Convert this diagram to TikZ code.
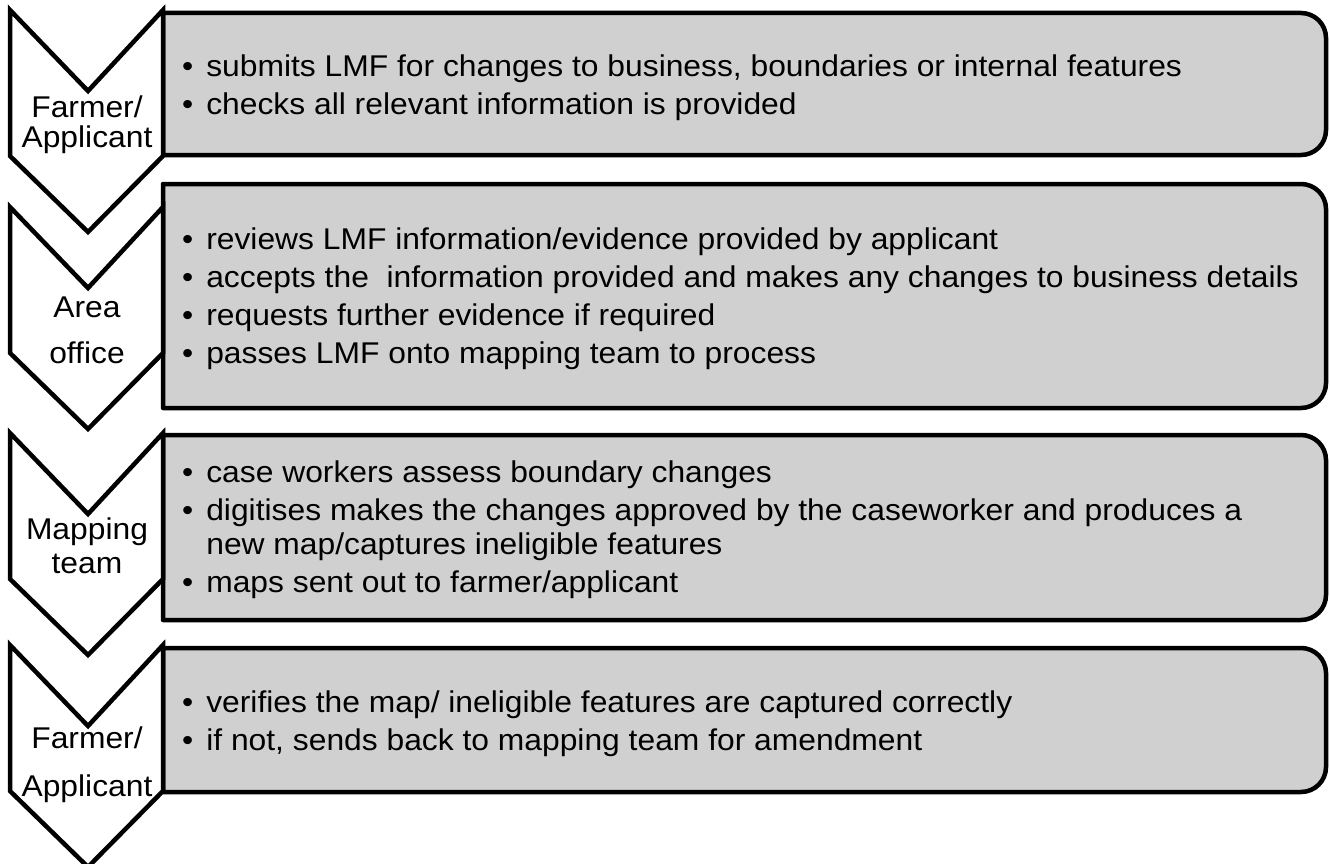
\documentclass[tikz,border=0pt]{standalone}
\usepackage{fontspec}
\setmainfont{Liberation Sans}[FakeStretch=1.06]
\definecolor{panel}{HTML}{D0D0D0}

\begin{document}
\begin{tikzpicture}[x=1pt, y=-1pt,
  panel/.style={draw=black, line width=4.5pt, fill=panel, line join=round},
  chev/.style={draw=black, line width=4.5pt, fill=white, line join=miter},
  stage/.style={align=center, inner sep=0pt, anchor=base},
  items/.style={font=\fontsize{30}{34}\selectfont, inner sep=0pt, anchor=west}]
\useasboundingbox (0,0) rectangle (1330,864);
% grey panels, square on the left, rounded on the right
\foreach \t/\b in {13/155, 184/408, 435/620, 648/792}
  \draw[panel] (163,\t) -- (1301,\t) arc[start angle=-90, end angle=0, radius=25]
    -- (1326,\b-25) arc[start angle=0, end angle=90, radius=25] -- (163,\b) -- cycle;
% chevrons
\foreach \t in {10, 207, 433, 645}
  \draw[chev] (10,\t) -- (88,\t+81) -- (163,\t) -- (163,\t+146) -- (88,\t+222) -- (10,\t+146) -- cycle;
% stage labels (base = last line)
\node[stage, font=\fontsize{30}{30}\selectfont] (farmer) at (87,147) {Farmer/\\Applicant};
\node[stage, font=\fontsize{30}{46}\selectfont] (area) at (87,363) {Area\\office};
\node[stage, font=\fontsize{30}{34}\selectfont] (mapping) at (87,573) {Mapping\\team};
\node[stage, font=\fontsize{30}{48}\selectfont] (verify) at (87,796) {Farmer/\\Applicant};
% panel texts
\node[items] (farmertasks) at (182,89) {\begin{tabular}{@{}l@{\hspace{13pt}}l@{}}
  \textbullet & submits LMF for changes to business, boundaries or internal features\\[4pt]
  \textbullet & checks all relevant information is provided
\end{tabular}};
\node[items] (areatasks) at (182,300) {\begin{tabular}{@{}l@{\hspace{13pt}}l@{}}
  \textbullet & reviews LMF information/evidence provided by applicant\\[4pt]
  \textbullet & accepts the~ information provided and makes any changes to business details\\[4pt]
  \textbullet & requests further evidence if required\\[4pt]
  \textbullet & passes LMF onto mapping team to process
\end{tabular}};
\node[items] (mappingtasks) at (182,531) {\begin{tabular}{@{}l@{\hspace{13pt}}l@{}}
  \textbullet & case workers assess boundary changes\\[4pt]
  \textbullet & digitises makes the changes approved by the caseworker and produces a\\
              & new map/captures ineligible features\\[4pt]
  \textbullet & maps sent out to farmer/applicant
\end{tabular}};
\node[items] (verifytasks) at (182,725) {\begin{tabular}{@{}l@{\hspace{13pt}}l@{}}
  \textbullet & verifies the map/ ineligible features are captured correctly\\[4pt]
  \textbullet & if not, sends back to mapping team for amendment
\end{tabular}};
\end{tikzpicture}
\end{document}
